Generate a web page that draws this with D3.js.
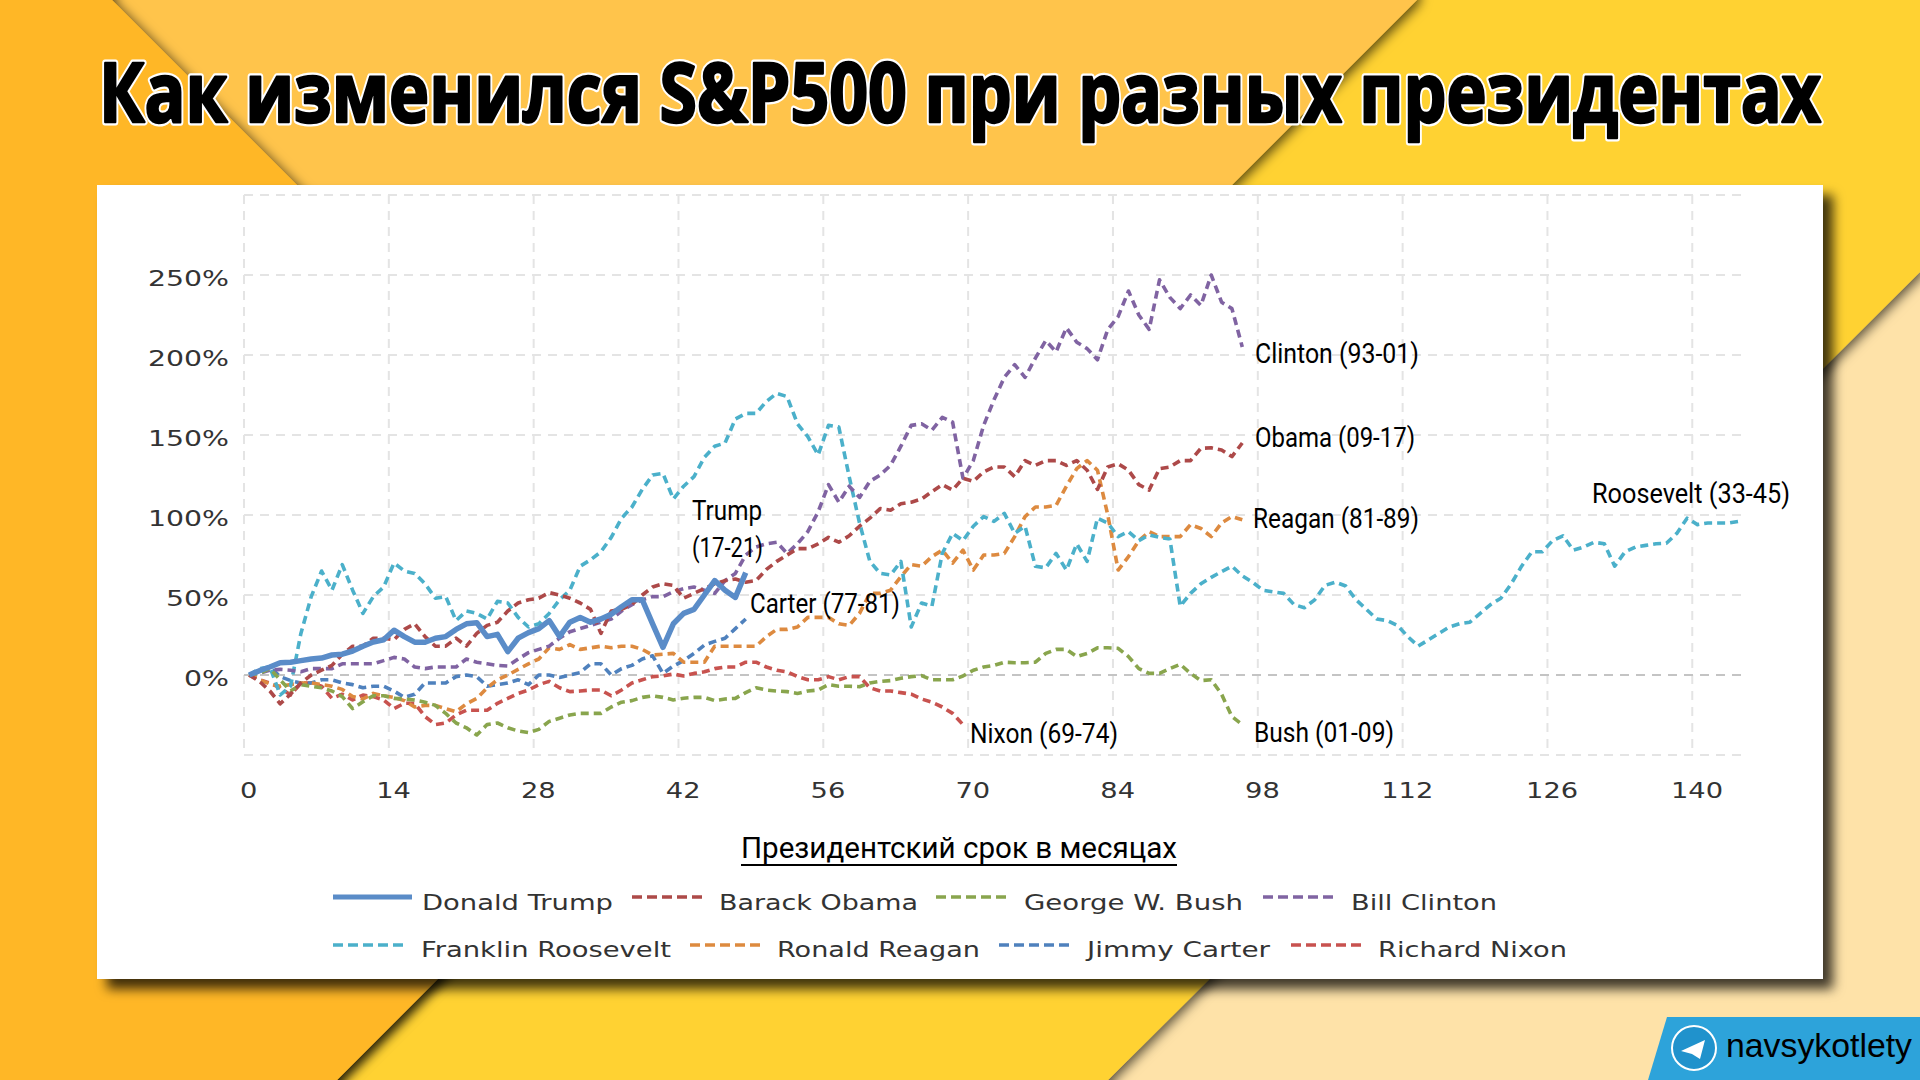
<!DOCTYPE html>
<html>
<head>
<meta charset="utf-8">
<script src="https://cdn.jsdelivr.net/npm/d3@7"></script>
<style>
html,body{margin:0;padding:0;background:#fee2a8;overflow:hidden}
svg{display:block}
</style>
</head>
<body>
<div id="chart"></div>
<script>
var title = "Как изменился S&P500 при разных президентах"
var axisTitle = "Президентский срок в месяцах"
var brand = "navsykotlety"

var xTicks = [0,14,28,42,56,70,84,98,112,126,140]
var yTicks = [0,50,100,150,200,250]
var yGrid = [-50,0,50,100,150,200,250,300]

var trump = [0,2.7,5,7.7,8,9,10,10.6,12.5,13,
	15,18,20.6,22,28,24,20.5,20.5,23,24,
	28.5,32,32.7,24,25.4,14.6,23,26.5,29,34,
	24,33,36,33,35,38,42.7,47,47,32,
	17.3,32,38.5,41,50,59,53,48.5,64]
var obama = [0,-4,-10,-18,-12,-5,0,3,6,13,
	18,18,23,23,22,28.5,32,24,18,18,
	23,18,26,31,33,40,45,47,48,51.5,
	50,48,45,41,26,40,41,44,50,55,
	57,56,48,51,54,57,59,60,58,59,
	66,71,75,79,79,82,86,83,87,93,
	98,104,103,107,108,110,114.6,119,115.6,123,
	121,127,130,130,124,134,131,134,134,131,
	134,128,116,130,132,128,119,115.6,129,130,
	134,134,141.7,142,140.6,136.5,145]
var bush = [0,1,4,-3,-10,-6,-7,-8,-10,-13.5,
	-21,-16.7,-13,-13,-14.6,-15,-15.6,-17,-19,-24,
	-30,-33,-37.5,-31,-30,-33,-35,-36,-34,-29,
	-27,-25,-24,-24,-24,-20,-17,-16,-14,-13,
	-14,-15.6,-14.5,-14,-14,-16,-15,-14.6,-11,-8,
	-9.4,-10,-10.4,-11.5,-10,-9.4,-6,-7,-7,-7.3,
	-5,-4,-3.5,-2,-1,-0.4,-3,-3,-3,-0.6,
	3,5,6,8,7.7,7.7,8,13.5,16,16,
	11.5,13.5,17,17,16.7,11.5,4,1,1,4,
	6.7,1,-3.5,-3,-12,-26,-31]
var clinton = [0,1,3,3.5,3,2,4,4,4,7,
	7,7,7,9,11,10,5,4,5,5,
	5,10,8,7,6,5.6,10,14,16,18,
	23,27,29,31,33,35,40,44,47,49,
	49,52,54,55,53,51,59,63.5,75,80,
	82,83,76,82,89.6,102,119,108,118,111,
	121,125,131,143,156,157,153,161,158,123,
	134,156,172,186,194,186,198,209,202,217,
	208,204,197,216,224,240,225,216,247,236,
	229,237.5,231,250,233,229,205]
var roosevelt = [0,4,5,-12.5,-7,26,49,65,53,69,
	53,38.5,49,55,70,65,63.5,57,48,49,
	34,40,38.5,35,46,45,36,30,32,38.5,
	47,53,68,72,77,86,98,105,116,125,
	126,110,118,124,136,143,145,160,163.5,163.5,
	171,176,174,157,149,137.5,156,155,124,95,
	71,63.5,62.5,71,30,45,43,76,88.5,84,
	93,99,96,101,88.5,93,68,67,76,65.6,
	82,71,98,95,86.5,89.6,84,87.5,86,85,
	43,51,57,61,64.6,68,62,58,53,52,
	51,44,42,47,56,58,55.6,47,41,35,
	34,31,24,18,22,26,30,32,33,38.5,
	44,48,57,68,77,77,84,87,78,80,
	83,82,68,77,80,81,82,82.3,88.5,98,
	94,95,95,95,96]
var reagan = [0,-3,-5.6,-7,-6,-5,-5,-6,-7,-9,
	-13.5,-15,-11.5,-13,-14,-16,-20,-19,-19,-21,
	-23,-18,-14.6,-8,-3,0,3.5,7,10,17,
	16,19,16,17,18,17,18,18,16,12.5,
	13,13.5,8,8,8,18,18,18,18,18,
	24,28.5,28.5,30,36,36,36,32,31,38.5,
	51,51,53,61.5,69,68,74,78,70,78,
	65.6,75,75,76,86.5,99,105,105,106,118,
	129,134,128,100,65.6,74,84,89.6,86.5,86.5,
	86.5,94,91.6,86.5,95,99,97]
var carter = [0,2,5,-1,-3.5,-5,-5,-3,-3,-5,
	-6,-8,-7,-7,-10,-14,-12,-5,-5,-5,
	-1,0,-1,-7,-6,-5,-3,-6,0,0,
	-1.5,0,1.5,7,7,0,4,6,10,12,
	1,5.6,9,13.5,18.7,21,23,29,35]
var nixon = [0,-3,-5,-8,-12.5,-5,-5,-7,-14.6,-12,
	-15.6,-12.5,-13.5,-15.6,-21,-17.7,-17.7,-26,-31,-30,
	-25,-22,-22,-22,-17.7,-14.6,-11.5,-9.4,-6,-4,
	-8,-10.4,-10,-9.4,-9.4,-13,-9.4,-5,-3,-1,
	-0.6,0.6,-0.6,1,2,4,5,5,8,8,
	5,3,2,-1,-3,-3,-1,-3,-1,-1,
	-8,-10,-10,-11,-12,-15,-17,-20,-24,-31]

var names = ["Donald Trump","Barack Obama","George W. Bush","Bill Clinton","Franklin Roosevelt","Ronald Reagan","Jimmy Carter","Richard Nixon"]
var values = [trump,obama,bush,clinton,roosevelt,reagan,carter,nixon]
var colors = ["#5a8cc8","#ad4a48","#89a54e","#8064a2","#4bb0ca","#dd8a3f","#4f81bd","#c8524f"]

var svg = d3.select("#chart").append("svg").attr("width",1920).attr("height",1080)
var defs = svg.append("defs")

function shadow(id,dx,dy,blur,op)
{
	defs.append("filter").attr("id",id)
		.attr("x","-20%").attr("y","-20%").attr("width","140%").attr("height","140%")
		.append("feDropShadow")
		.attr("dx",dx).attr("dy",dy).attr("stdDeviation",blur)
		.attr("flood-color","#000").attr("flood-opacity",op)
}
shadow("edge",3,3,6,0.65)
shadow("card",10,10,6,0.75)

// the chart in the source is a slightly soft screenshot
defs.append("filter").attr("id","soft")
	.attr("filterUnits","userSpaceOnUse")
	.attr("x",0).attr("y",0).attr("width",1920).attr("height",1080)
	.append("feGaussianBlur").attr("stdDeviation",0.6)

// background
function poly(d,fill,filter)
{
	var p = svg.append("polygon").attr("points",d).attr("fill",fill)
	if(filter) p.attr("filter","url(#"+filter+")")
}
svg.append("rect").attr("width",1920).attr("height",1080).attr("fill","#fee2a8")
poly("-40,-40 1920,-40 1920,272 1108,1080 1108,1120 -40,1120","#ffd230","edge")
poly("-40,-40 1417,-40 1417,0 337,1080 337,1120 -40,1120","#ffc44b","edge")
poly("-40,-40 112,-40 112,0 764,652 337,1080 337,1120 -40,1120","#ffb727","edge")

// title
svg.selectAll("text.title").data(["#fff","#000"]).enter().append("text")
	.attr("class","title")
	.attr("x",99).attr("y",122)
	.attr("textLength",1722).attr("lengthAdjust","spacingAndGlyphs")
	.style("font-family","'Open Sans'").style("font-weight",700).style("font-size","82px")
	.attr("fill",function(d){return d})
	.attr("stroke",function(d){return d})
	.attr("stroke-width",function(d,i){return i==0 ? 7 : 2.5})
	.attr("stroke-linejoin","round")
	.text(title)

// card
svg.append("rect").attr("x",97).attr("y",185).attr("width",1726).attr("height",794)
	.attr("fill","#fff").attr("filter","url(#card)")

var xScale = d3.scaleLinear().domain([-0.5,144.5]).range([244,1744])
var yScale = d3.scaleLinear().domain([-50,300]).range([755,195])

// grid
svg.append("g").selectAll("line").data(xTicks).enter().append("line")
	.attr("x1",function(d){return xScale(d-0.5)})
	.attr("x2",function(d){return xScale(d-0.5)})
	.attr("y1",yScale(300)).attr("y2",yScale(-50))
	.attr("stroke","#e4e4e4").attr("stroke-width",2).attr("stroke-dasharray","9,7")
svg.append("g").selectAll("line").data(yGrid).enter().append("line")
	.attr("x1",244).attr("x2",1747)
	.attr("y1",function(d){return yScale(d)})
	.attr("y2",function(d){return yScale(d)})
	.attr("stroke",function(d){return d==0 ? "#c4c4c4" : "#e4e4e4"})
	.attr("stroke-width",2).attr("stroke-dasharray","9,7")

// axes, the labels in the source are stretched sideways
function stretch(sel,k)
{
	sel.each(function(){
		var t = d3.select(this)
		t.attr("textLength",this.getComputedTextLength()*k).attr("lengthAdjust","spacingAndGlyphs")
	})
}
var asse_x = d3.axisBottom(xScale).tickValues(xTicks).tickSize(0).tickPadding(0)
var asse_y = d3.axisLeft(yScale).tickValues(yTicks).tickSize(0).tickPadding(0).tickFormat(function(d){return d+"%"})

var xAxisGroup = svg.append("g").attr("transform","translate(-1,780)").call(asse_x)
var yAxisGroup = svg.append("g").attr("transform","translate(229,0)").call(asse_y)
xAxisGroup.select(".domain").remove()
yAxisGroup.select(".domain").remove()
xAxisGroup.selectAll("text").attr("dy","18").attr("fill","#333")
	.style("font-family","'DejaVu Sans'").style("font-size","21px").call(stretch,1.3)
yAxisGroup.selectAll("text").attr("dy","10").attr("fill","#333")
	.style("font-family","'DejaVu Sans'").style("font-size","21px").call(stretch,1.35)

// series, Trump goes on top
var line = d3.line()
	.x(function(d,i){return xScale(i)})
	.y(function(d){return yScale(d)})

var lines = svg.append("g").attr("filter","url(#soft)")
for(var s=values.length-1;s>=0;s--)
{
	lines.append("path")
		.attr("d",line(values[s]))
		.attr("fill","none")
		.attr("stroke",colors[s])
		.attr("stroke-width",s==0 ? 5.5 : 3.6)
		.attr("stroke-dasharray",s==0 ? null : "8,5")
		.attr("stroke-linejoin","round")
}

// notes next to the lines
function note(txt,x,y,w)
{
	svg.append("text").attr("x",x).attr("y",y)
		.attr("textLength",w).attr("lengthAdjust","spacingAndGlyphs")
		.style("font-family","Roboto").style("font-size","28px")
		.attr("fill","#000").text(txt)
}
note("Clinton (93-01)",1255,363,164)
note("Obama (09-17)",1255,447,160)
note("Reagan (81-89)",1253,528,166)
note("Roosevelt (33-45)",1592,503,198)
note("Bush (01-09)",1254,742,140)
note("Nixon (69-74)",970,743,148)
note("Carter (77-81)",750,613,150)
note("Trump",692,520,70)
note("(17-21)",692,557,71)

// axis title
svg.append("text").attr("x",741).attr("y",858)
	.attr("textLength",436).attr("lengthAdjust","spacingAndGlyphs")
	.style("font-family","Roboto").style("font-size","30px")
	.attr("fill","#000").text(axisTitle)
svg.append("line").attr("x1",741).attr("x2",1177).attr("y1",865).attr("y2",865)
	.attr("stroke","#000").attr("stroke-width",2)

// legend
var legX1 = [333,632,936,1263,333,690,999,1291]
var legX2 = [412,703,1007,1335,404,760,1069,1361]
var legT1 = [422,719,1024,1351,421,777,1087,1378]
var legT2 = [613,918,1243,1497,671,980,1270,1567]
var legend = svg.append("g").selectAll("g").data(names).enter().append("g")
legend.append("line")
	.attr("x1",function(d,i){return legX1[i]})
	.attr("x2",function(d,i){return legX2[i]})
	.attr("y1",function(d,i){return i<4 ? 897 : 945})
	.attr("y2",function(d,i){return i<4 ? 897 : 945})
	.attr("stroke",function(d,i){return colors[i]})
	.attr("stroke-width",function(d,i){return i==0 ? 5 : 3.4})
	.attr("stroke-dasharray",function(d,i){return i==0 ? null : "10,5"})
legend.append("text")
	.attr("x",function(d,i){return legT1[i]})
	.attr("y",function(d,i){return i<4 ? 910 : 957})
	.attr("textLength",function(d,i){return legT2[i]-legT1[i]})
	.attr("lengthAdjust","spacingAndGlyphs")
	.style("font-family","'DejaVu Sans'").style("font-size","21px")
	.attr("fill","#333")
	.text(function(d){return d})

// logo
poly("1667,1017 1920,1017 1920,1080 1648,1080","#2da3da")
svg.append("circle").attr("cx",1694).attr("cy",1048).attr("r",22)
	.attr("fill","#2092cc").attr("stroke","#fff").attr("stroke-width",2)
poly("1681,1051 1705,1040 1700,1059 1692,1054","#fff")
svg.append("text").attr("x",1726).attr("y",1057)
	.attr("textLength",186).attr("lengthAdjust","spacingAndGlyphs")
	.style("font-family","'Liberation Sans'").style("font-size","34px")
	.attr("fill","#000").text(brand)
</script>
</body>
</html>
